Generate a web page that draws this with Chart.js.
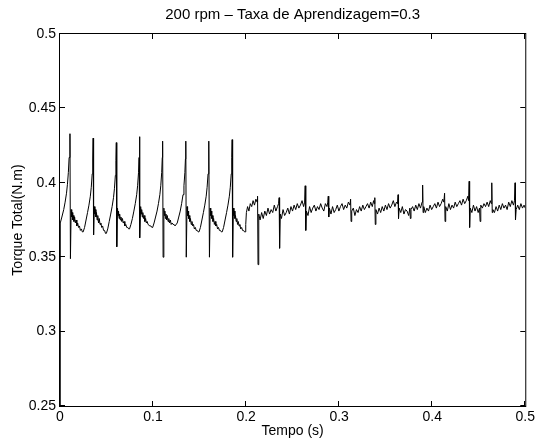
<!DOCTYPE html>
<html>
<head>
<meta charset="utf-8">
<script src="https://cdn.jsdelivr.net/npm/chart.js@4.4.1/dist/chart.umd.min.js"></script>
<style>
  html, body { margin: 0; padding: 0; background: #fff; }
  #grafico { display: block; }
</style>
</head>
<body>
<canvas id="grafico" width="538" height="440"></canvas>
<script>
const titulo = '200 rpm \u2013 Taxa de Aprendizagem=0.3';

// eixos
const xTicks = [0, 0.1, 0.2, 0.3, 0.4, 0.5];
const xTickLabels = ['0', '0.1', '0.2', '0.3', '0.4', '0.5'];
const yTicks = [0.25, 0.3, 0.35, 0.4, 0.45, 0.5];
const yTickLabels = ['0.25', '0.3', '0.35', '0.4', '0.45', '0.5'];

// primeira parte: 8 ciclos com picos (0 a 0.2 s)
const tempoCiclos = [
    0, 0.0003, 0.0020, 0.0040, 0.0055, 0.0070, 0.0080, 0.0090, 0.0098,
    0.0107, 0.0112, 0.0120, 0.0126, 0.0131, 0.0137, 0.0143, 0.0150, 0.0157, 0.0165, 0.0173, 0.0181, 0.0190, 0.0199, 0.0209, 0.0219, 0.0230, 0.0240, 0.0249, 0.0264, 0.0280, 0.0296, 0.0311, 0.0326, 0.0336, 0.0346, 0.0352,
    0.0356, 0.0361, 0.0369, 0.0375, 0.0380, 0.0386, 0.0392, 0.0399, 0.0406, 0.0414, 0.0422, 0.0430, 0.0439, 0.0448, 0.0458, 0.0468, 0.0479, 0.0489, 0.0498, 0.0513, 0.0529, 0.0545, 0.0560, 0.0575, 0.0585, 0.0595, 0.0601,
    0.0605, 0.0610, 0.0618, 0.0624, 0.0629, 0.0635, 0.0641, 0.0648, 0.0655, 0.0663, 0.0671, 0.0679, 0.0688, 0.0697, 0.0707, 0.0717, 0.0728, 0.0738, 0.0747, 0.0762, 0.0778, 0.0794, 0.0809, 0.0824, 0.0834, 0.0844, 0.0850,
    0.0854, 0.0859, 0.0867, 0.0873, 0.0878, 0.0884, 0.0890, 0.0897, 0.0904, 0.0912, 0.0920, 0.0928, 0.0937, 0.0946, 0.0956, 0.0966, 0.0977, 0.0987, 0.0996, 0.1011, 0.1027, 0.1043, 0.1058, 0.1073, 0.1083, 0.1093, 0.1099,
    0.1103, 0.1108, 0.1116, 0.1122, 0.1127, 0.1133, 0.1139, 0.1146, 0.1153, 0.1161, 0.1169, 0.1177, 0.1186, 0.1195, 0.1205, 0.1215, 0.1226, 0.1236, 0.1245, 0.1260, 0.1276, 0.1292, 0.1307, 0.1322, 0.1332, 0.1342, 0.1348,
    0.1352, 0.1357, 0.1365, 0.1371, 0.1376, 0.1382, 0.1388, 0.1395, 0.1402, 0.1410, 0.1418, 0.1426, 0.1435, 0.1444, 0.1454, 0.1464, 0.1475, 0.1485, 0.1494, 0.1509, 0.1525, 0.1541, 0.1556, 0.1571, 0.1581, 0.1591, 0.1597,
    0.1601, 0.1606, 0.1614, 0.1620, 0.1625, 0.1631, 0.1637, 0.1644, 0.1651, 0.1659, 0.1667, 0.1675, 0.1684, 0.1693, 0.1703, 0.1713, 0.1724, 0.1734, 0.1743, 0.1758, 0.1774, 0.1790, 0.1805, 0.1820, 0.1830, 0.1840, 0.1846,
    0.1850, 0.1855, 0.1863, 0.1869, 0.1874, 0.1880, 0.1886, 0.1893, 0.1900, 0.1908, 0.1916, 0.1924, 0.1933, 0.1942, 0.1952, 0.1962, 0.1973, 0.1983, 0.1992
];
const torqueCiclos = [
    0.25, 0.373, 0.377, 0.382, 0.387, 0.393, 0.399, 0.407, 0.417,
    0.433, 0.349, 0.382, 0.377, 0.380, 0.375, 0.378, 0.374, 0.377, 0.373, 0.375, 0.371, 0.373, 0.370, 0.371, 0.368, 0.369, 0.367, 0.367, 0.370, 0.375, 0.380, 0.385, 0.391, 0.397, 0.406, 0.416,
    0.430, 0.365, 0.384, 0.379, 0.382, 0.377, 0.380, 0.375, 0.378, 0.373, 0.376, 0.372, 0.373, 0.370, 0.371, 0.368, 0.368, 0.366, 0.366, 0.369, 0.374, 0.379, 0.384, 0.390, 0.396, 0.405, 0.415,
    0.427, 0.357, 0.383, 0.378, 0.381, 0.376, 0.379, 0.375, 0.377, 0.374, 0.376, 0.373, 0.374, 0.371, 0.372, 0.370, 0.370, 0.369, 0.369, 0.372, 0.376, 0.381, 0.386, 0.392, 0.398, 0.407, 0.417,
    0.431, 0.363, 0.384, 0.379, 0.382, 0.377, 0.380, 0.376, 0.378, 0.374, 0.376, 0.373, 0.374, 0.372, 0.372, 0.371, 0.371, 0.370, 0.370, 0.373, 0.377, 0.381, 0.386, 0.392, 0.398, 0.407, 0.417,
    0.428, 0.350, 0.383, 0.378, 0.381, 0.376, 0.379, 0.375, 0.378, 0.374, 0.376, 0.373, 0.375, 0.372, 0.373, 0.372, 0.372, 0.371, 0.371, 0.373, 0.377, 0.381, 0.386, 0.392, 0.398, 0.407, 0.416,
    0.428, 0.350, 0.384, 0.378, 0.381, 0.376, 0.378, 0.374, 0.376, 0.372, 0.374, 0.371, 0.372, 0.369, 0.370, 0.368, 0.368, 0.367, 0.367, 0.370, 0.375, 0.380, 0.385, 0.391, 0.397, 0.406, 0.416,
    0.428, 0.350, 0.383, 0.378, 0.381, 0.376, 0.378, 0.374, 0.376, 0.372, 0.374, 0.371, 0.372, 0.369, 0.370, 0.368, 0.368, 0.367, 0.367, 0.370, 0.375, 0.380, 0.385, 0.391, 0.397, 0.406, 0.417,
    0.429, 0.350, 0.383, 0.378, 0.381, 0.376, 0.378, 0.374, 0.376, 0.372, 0.374, 0.371, 0.372, 0.369, 0.370, 0.368, 0.368, 0.367, 0.367
];

// segunda parte: regime com ruido (0.2 a 0.5 s)
const tempoRegime = [
    0.1996, 0.2003, 0.2016, 0.2030, 0.2045, 0.2060, 0.2075, 0.2090, 0.2105, 0.2118, 0.2123, 0.2128,
    0.2136, 0.2150, 0.2167, 0.2184, 0.2201, 0.2218, 0.2235, 0.2252, 0.2269, 0.2286, 0.2303, 0.2320, 0.2337, 0.2349, 0.2355, 0.2360,
    0.2367, 0.2380, 0.2397, 0.2414, 0.2431, 0.2448, 0.2465, 0.2482, 0.2499, 0.2516, 0.2533, 0.2550, 0.2567, 0.2584, 0.2601, 0.2618, 0.2629, 0.2635, 0.2641,
    0.2648, 0.2665, 0.2682, 0.2699, 0.2716, 0.2733, 0.2750, 0.2767, 0.2784, 0.2801, 0.2818, 0.2835, 0.2852, 0.2869, 0.2878, 0.2883, 0.2888,
    0.2895, 0.2912, 0.2929, 0.2946, 0.2963, 0.2980, 0.2997, 0.3014, 0.3031, 0.3048, 0.3065, 0.3082, 0.3099, 0.3116, 0.3123, 0.3128,
    0.3135, 0.3152, 0.3169, 0.3186, 0.3203, 0.3220, 0.3237, 0.3254, 0.3271, 0.3288, 0.3305, 0.3322, 0.3339, 0.3356, 0.3370, 0.3377, 0.3383, 0.3388,
    0.3395, 0.3412, 0.3429, 0.3446, 0.3463, 0.3480, 0.3497, 0.3514, 0.3531, 0.3548, 0.3565, 0.3582, 0.3599, 0.3616, 0.3627, 0.3633, 0.3638,
    0.3645, 0.3662, 0.3679, 0.3696, 0.3713, 0.3730, 0.3747, 0.3760, 0.3765, 0.3772, 0.3789, 0.3806, 0.3823, 0.3840, 0.3857, 0.3874, 0.3891, 0.3897, 0.3902,
    0.3909, 0.3926, 0.3943, 0.3960, 0.3977, 0.3994, 0.4011, 0.4028, 0.4045, 0.4062, 0.4079, 0.4096, 0.4113, 0.4125, 0.4133, 0.4138,
    0.4145, 0.4162, 0.4179, 0.4196, 0.4213, 0.4230, 0.4247, 0.4264, 0.4281, 0.4298, 0.4315, 0.4332, 0.4349, 0.4366, 0.4383, 0.4391, 0.4397, 0.4402,
    0.4409, 0.4426, 0.4443, 0.4460, 0.4477, 0.4494, 0.4508, 0.4515, 0.4522, 0.4539, 0.4556, 0.4573, 0.4590, 0.4607, 0.4624, 0.4634, 0.4640, 0.4645,
    0.4652, 0.4669, 0.4686, 0.4703, 0.4720, 0.4737, 0.4754, 0.4771, 0.4788, 0.4805, 0.4822, 0.4839, 0.4856, 0.4873, 0.4884, 0.4890, 0.4895,
    0.4902, 0.4919, 0.4936, 0.4953, 0.4970, 0.4987, 0.5000
];
const torqueRegime = [
    0.372, 0.380, 0.384, 0.381, 0.386, 0.384, 0.388, 0.385, 0.389, 0.387, 0.391, 0.345,
    0.379, 0.375, 0.380, 0.376, 0.381, 0.378, 0.383, 0.379, 0.382, 0.380, 0.385, 0.381, 0.384, 0.386, 0.390, 0.356,
    0.379, 0.376, 0.382, 0.378, 0.380, 0.383, 0.379, 0.384, 0.381, 0.385, 0.382, 0.386, 0.383, 0.385, 0.388, 0.384, 0.387, 0.398, 0.368,
    0.381, 0.378, 0.384, 0.380, 0.383, 0.385, 0.381, 0.384, 0.382, 0.386, 0.383, 0.381, 0.386, 0.384, 0.387, 0.391, 0.377,
    0.383, 0.379, 0.384, 0.380, 0.382, 0.385, 0.381, 0.384, 0.386, 0.382, 0.385, 0.383, 0.387, 0.385, 0.389, 0.374,
    0.381, 0.383, 0.378, 0.382, 0.380, 0.384, 0.381, 0.385, 0.382, 0.384, 0.386, 0.383, 0.387, 0.384, 0.388, 0.386, 0.390, 0.372,
    0.382, 0.379, 0.383, 0.380, 0.384, 0.381, 0.385, 0.382, 0.386, 0.383, 0.385, 0.388, 0.384, 0.387, 0.386, 0.392, 0.376,
    0.383, 0.380, 0.384, 0.379, 0.382, 0.381, 0.378, 0.383, 0.376, 0.382, 0.384, 0.381, 0.385, 0.382, 0.386, 0.383, 0.387, 0.3985, 0.380,
    0.384, 0.380, 0.383, 0.381, 0.385, 0.382, 0.384, 0.386, 0.383, 0.387, 0.384, 0.386, 0.389, 0.387, 0.393, 0.374,
    0.384, 0.381, 0.386, 0.382, 0.385, 0.383, 0.387, 0.384, 0.386, 0.388, 0.385, 0.389, 0.386, 0.388, 0.391, 0.388, 0.401, 0.370,
    0.383, 0.380, 0.385, 0.381, 0.384, 0.380, 0.383, 0.374, 0.385, 0.383, 0.386, 0.384, 0.387, 0.384, 0.388, 0.386, 0.400, 0.380,
    0.382, 0.380, 0.384, 0.381, 0.385, 0.382, 0.386, 0.383, 0.385, 0.382, 0.387, 0.384, 0.388, 0.385, 0.388, 0.400, 0.375,
    0.382, 0.385, 0.382, 0.386, 0.383, 0.385, 0.383
];

const tempo = tempoCiclos.concat(tempoRegime);
const torque = torqueCiclos.concat(torqueRegime);
const pontos = tempo.map((t, i) => ({ x: t, y: torque[i] }));

const fonte = 'Liberation Sans, Arial, Helvetica, sans-serif';
Chart.defaults.font.family = fonte;
Chart.defaults.color = '#000';

// caixa, marcas para dentro e titulo centrado na area do grafico (estilo matlab)
const caixaMatlab = {
    id: 'caixaMatlab',
    afterDraw(chart) {
        const { ctx, chartArea: a, scales: { x, y } } = chart;
        const tam = 5;
        ctx.save();
        ctx.strokeStyle = '#000';
        ctx.lineWidth = 1;
        ctx.strokeRect(a.left - 0.5, a.top - 0.5, a.right - a.left + 1, a.bottom - a.top + 1);
        ctx.beginPath();
        xTicks.forEach(v => {
            const px = Math.round(x.getPixelForValue(v)) - 0.5;
            ctx.moveTo(px, a.bottom); ctx.lineTo(px, a.bottom - tam);
            ctx.moveTo(px, a.top); ctx.lineTo(px, a.top + tam);
        });
        yTicks.forEach(v => {
            const py = Math.round(y.getPixelForValue(v)) - 0.5;
            ctx.moveTo(a.left, py); ctx.lineTo(a.left + tam, py);
            ctx.moveTo(a.right, py); ctx.lineTo(a.right - tam, py);
        });
        ctx.stroke();

        ctx.fillStyle = '#000';
        ctx.font = '15px ' + fonte;
        ctx.textAlign = 'center';
        ctx.textBaseline = 'middle';
        ctx.fillText(titulo, (a.left + a.right) / 2, 15);
        ctx.restore();
    }
};

new Chart(document.getElementById('grafico'), {
    type: 'line',
    data: {
        datasets: [{
            data: pontos,
            borderColor: '#000',
            borderWidth: 1,
            pointRadius: 0,
            tension: 0,
            fill: false
        }]
    },
    options: {
        responsive: false,
        animation: false,
        devicePixelRatio: 1,
        layout: { padding: { top: 34, right: 11, bottom: 0, left: 0 } },
        plugins: {
            legend: { display: false },
            tooltip: { enabled: false },
            title: { display: false }
        },
        scales: {
            x: {
                type: 'linear',
                min: 0,
                max: 0.5,
                afterBuildTicks: s => { s.ticks = xTicks.map(v => ({ value: v })); },
                afterFit: s => { s.height = 34; },
                grid: { display: false, drawTicks: false },
                border: { display: false },
                ticks: {
                    padding: 3,
                    maxRotation: 0,
                    font: { size: 14 },
                    callback: (v, i) => xTickLabels[i]
                },
                title: {
                    display: true,
                    text: 'Tempo (s)',
                    font: { size: 14 },
                    padding: { top: 0, bottom: 0 }
                }
            },
            y: {
                type: 'linear',
                min: 0.25,
                max: 0.5,
                afterBuildTicks: s => { s.ticks = yTicks.map(v => ({ value: v })); },
                afterFit: s => { s.width = 60; },
                grid: { display: false, drawTicks: false },
                border: { display: false },
                ticks: {
                    padding: 4,
                    font: { size: 14 },
                    callback: (v, i) => yTickLabels[i]
                },
                title: {
                    display: true,
                    text: 'Torque Total(N.m)',
                    font: { size: 14 },
                    padding: { top: 10, bottom: 0 }
                }
            }
        }
    },
    plugins: [caixaMatlab]
});
</script>
</body>
</html>
